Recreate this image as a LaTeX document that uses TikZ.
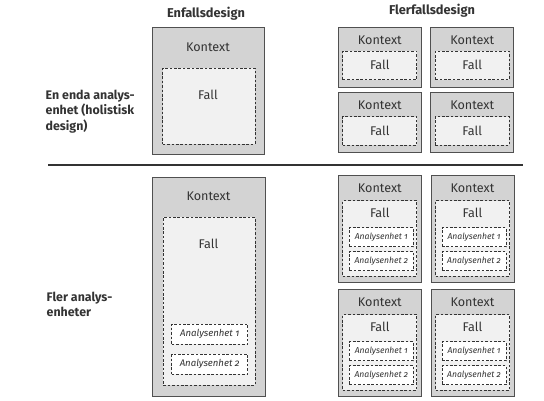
\documentclass[tikz,border=0pt]{standalone}
\usepackage{fontspec}
\setmainfont{Fira Sans}
\usetikzlibrary{positioning,calc}
\definecolor{outerfill}{HTML}{D3D3D3}
\definecolor{outerdraw}{HTML}{505050}
\definecolor{innerfill}{HTML}{F1F1F1}
\definecolor{txt}{HTML}{333333}
\tikzset{
  outerbox/.style={draw=outerdraw, line width=0.9pt, fill=outerfill, anchor=north west, inner sep=0pt, outer sep=0pt},
  fallbox/.style={draw=txt, line width=0.8pt, dash pattern=on 2.6pt off 1.8pt, fill=innerfill, anchor=north west, inner sep=0pt, outer sep=0pt},
  unitbox/.style={draw=txt, line width=0.8pt, dash pattern=on 2.6pt off 1.8pt, fill=white, anchor=north west, inner sep=0pt, outer sep=0pt},
  lbl/.style={text=txt, font=\fontsize{12.6}{14}\selectfont, inner sep=0pt},
  unitlbl/.style={text=txt, font=\fontsize{9.6}{11}\selectfont\itshape\addfontfeatures{Numbers=OldStyle}, inner sep=0pt},
  head/.style={text=txt, font=\fontsize{12.8}{14}\selectfont\bfseries, inner sep=0pt},
  side/.style={text=txt, font=\fontsize{12.4}{15.2}\selectfont\bfseries, inner sep=0pt, align=left, anchor=west},
}
\begin{document}
\begin{tikzpicture}[x=1pt,y=-1pt]
\useasboundingbox[fill=white] (0,0) rectangle (544,401);

% headings
\node[head] (h1) at (206,14) {Enfallsdesign};
\node[head] (h2) at (432,11) {Flerfallsdesign};
\node[side] (s1) at (45.5,111.5) {En enda analys-\\enhet (holistisk\\design)};
\node[side] (s2) at (46.5,304) {Fler analys-\\enheter};

% separator
\coordinate (sepL) at (48,165);
\coordinate (sepR) at (523,165);
\draw[line width=1.2pt, draw=txt] (sepL) -- (sepR);

% ---- single case, holistic
\node[outerbox, minimum width=111.3pt, minimum height=126.7pt] (sc1) at (152.7,27.3) {};
\node[lbl] (sc1k) at (208,47.7) {Kontext};
\node[fallbox, minimum width=92.3pt, minimum height=75.7pt] (sc1f) at (162.7,68.3) {};
\node[lbl] (sc1ft) at (208,95) {Fall};

% ---- multiple case, holistic
\foreach \cx/\col in {338.3/a,430.7/b}{
  \foreach \ry/\row in {27.3/1,92.7/2}{
    \node[outerbox, minimum width=83pt, minimum height=60pt] (mh\col\row) at (\cx,\ry) {};
    \node[lbl] (mh\col\row k) at ($(\cx,\ry)+(41.5,12.7)$) {Kontext};
    \node[fallbox, minimum width=74pt, minimum height=28.5pt] (mh\col\row f) at ($(\cx,\ry)+(4.5,23.9)$) {};
    \node[lbl] (mh\col\row ft) at ($(\cx,\ry)+(41.5,37.8)$) {Fall};
  }
}

% ---- single case, embedded
\node[outerbox, minimum width=112.3pt, minimum height=218.7pt] (sc2) at (152.7,177.3) {};
\node[lbl] (sc2k) at (208.5,196.7) {Kontext};
\node[fallbox, minimum width=91.7pt, minimum height=167.7pt] (sc2f) at (163.3,217.3) {};
\node[lbl] (sc2ft) at (208.5,244) {Fall};
\node[unitbox, minimum width=76pt, minimum height=20.3pt] (sc2u1) at (171.7,324) {};
\node[unitlbl] (sc2u1t) at (sc2u1.center) {Analysenhet 1};
\node[unitbox, minimum width=76pt, minimum height=19.7pt] (sc2u2) at (171.7,354.3) {};
\node[unitlbl] (sc2u2t) at (sc2u2.center) {Analysenhet 2};

% ---- multiple case, embedded
\foreach \cx/\col in {338.3/a,431/b}{
  \foreach \ry/\row in {175/1,289/2}{
    \node[outerbox, minimum width=83pt, minimum height=107.2pt] (me\col\row) at (\cx,\ry) {};
    \node[lbl] (me\col\row k) at ($(\cx,\ry)+(41.5,13.6)$) {Kontext};
    \node[fallbox, minimum width=74pt, minimum height=75.5pt] (me\col\row f) at ($(\cx,\ry)+(4.5,25.7)$) {};
    \node[lbl] (me\col\row ft) at ($(\cx,\ry)+(41.5,37.5)$) {Fall};
    \node[unitbox, minimum width=64pt, minimum height=19pt] (me\col\row u1) at ($(\cx,\ry)+(11,52.8)$) {};
    \node[unitlbl, font=\fontsize{8.6}{10}\selectfont\itshape\addfontfeatures{Numbers=OldStyle}] (me\col\row u1t) at (me\col\row u1.center) {Analysenhet 1};
    \node[unitbox, minimum width=64pt, minimum height=19pt] (me\col\row u2) at ($(\cx,\ry)+(11,76.5)$) {};
    \node[unitlbl, font=\fontsize{8.6}{10}\selectfont\itshape\addfontfeatures{Numbers=OldStyle}] (me\col\row u2t) at (me\col\row u2.center) {Analysenhet 2};
  }
}
\end{tikzpicture}
\end{document}
